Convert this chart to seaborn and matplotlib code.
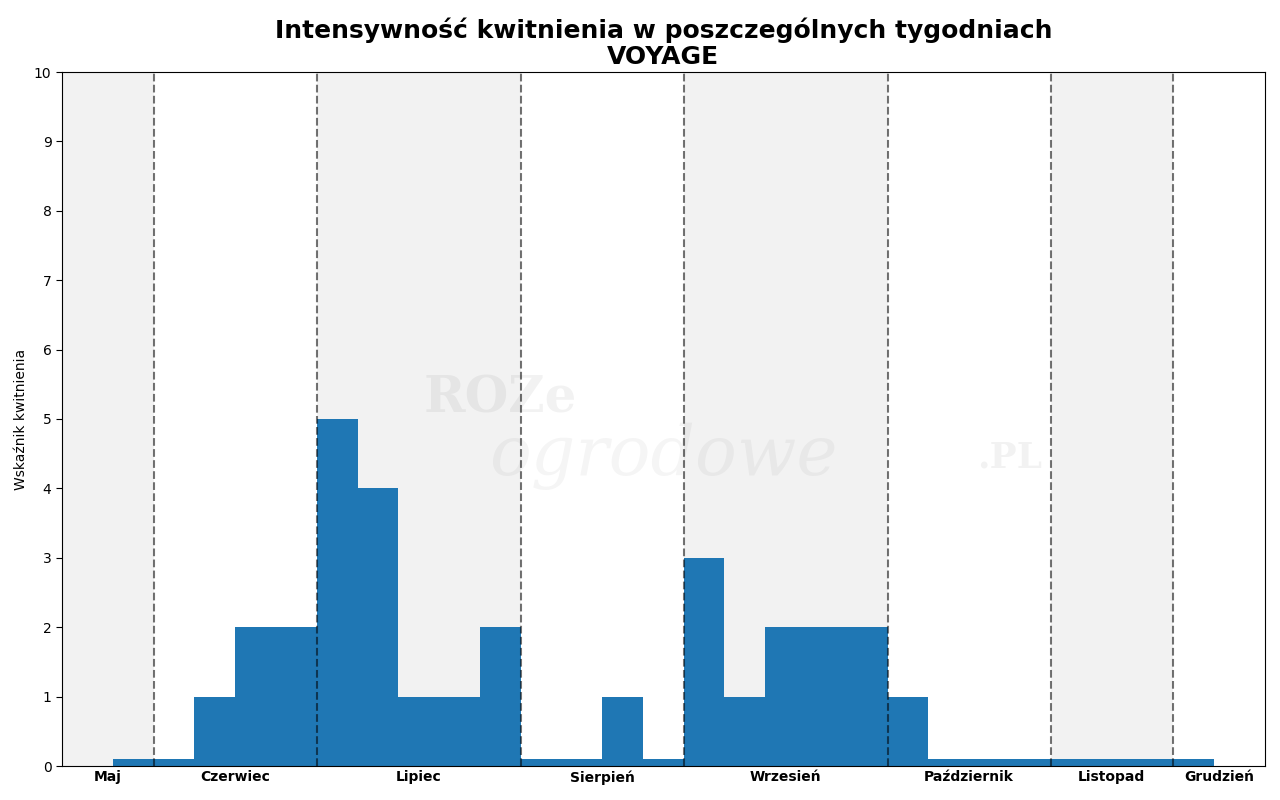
import matplotlib
matplotlib.use("Agg")
import matplotlib.pyplot as plt
import seaborn as sns
import pandas as pd
import numpy as np

values = [0.1, 0.1, 1, 2, 2, 5, 4, 1, 1, 2, 0.1, 0.1, 1, 0.1,
          3, 1, 2, 2, 2, 1, 0.1, 0.1, 0.1, 0.1, 0.1, 0.1, 0.1]
months = ["Maj", "Czerwiec", "Lipiec", "Sierpień", "Wrzesień",
          "Październik", "Listopad", "Grudzień"]
month_starts = [1, 5, 10, 14, 19, 23, 26]

sns.set_style("white")
plt.rcParams.update({"text.color": "black", "axes.labelcolor": "black",
                     "ytick.color": "black"})
fig, ax = plt.subplots(figsize=(12.8, 8), dpi=100)
fig.subplots_adjust(left=0.0484, right=0.988, top=0.91, bottom=0.0425)

xmin, xmax = -1.25, 28.25
bounds = [xmin] + month_starts + [xmax]
for i in range(len(months)):
    if i % 2 == 0:
        ax.axvspan(bounds[i], bounds[i + 1], color="#f2f2f2", zorder=0, lw=0)
    ax.annotate(months[i], xy=((bounds[i] + bounds[i + 1]) / 2, 0),
                xycoords=("data", "axes fraction"), xytext=(0, -3),
                textcoords="offset points", ha="center", va="top",
                fontweight="bold", fontsize=10)

df = pd.DataFrame({"week": np.arange(len(values)), "v": values})
ax.bar(df["week"], df["v"], width=1.0, align="edge", color="#1f77b4", lw=0, zorder=2)

for s in month_starts:
    ax.axvline(s, color="black", ls="--", lw=1.5, alpha=0.55, zorder=3)

ax.text(9.5, 5.1, "ROZe", fontsize=36, color="#000000", alpha=0.05, ha="center",
        family="DejaVu Serif", fontweight="bold", zorder=1)
ax.text(13.5, 4.2, "ogrodowe", fontsize=50, color="#000000", alpha=0.04, ha="center",
        family="DejaVu Serif", style="italic", zorder=1)
ax.text(22.0, 4.3, ".PL", fontsize=26, color="#000000", alpha=0.05, ha="center",
        family="DejaVu Serif", fontweight="bold", zorder=1)

ax.set_xlim(xmin, xmax)
ax.set_ylim(0, 10)
ax.set_yticks(range(11))
ax.set_xticks([])
ax.tick_params(axis="y", left=True, length=4)
ax.set_ylabel("Wskaźnik kwitnienia")
for sp in ax.spines.values():
    sp.set_color("black")
    sp.set_linewidth(0.8)
ax.set_title("Intensywność kwitnienia w poszczególnych tygodniach\nVOYAGE",
             fontsize=18, fontweight="bold", linespacing=1.1)
fig.savefig("out.png")
